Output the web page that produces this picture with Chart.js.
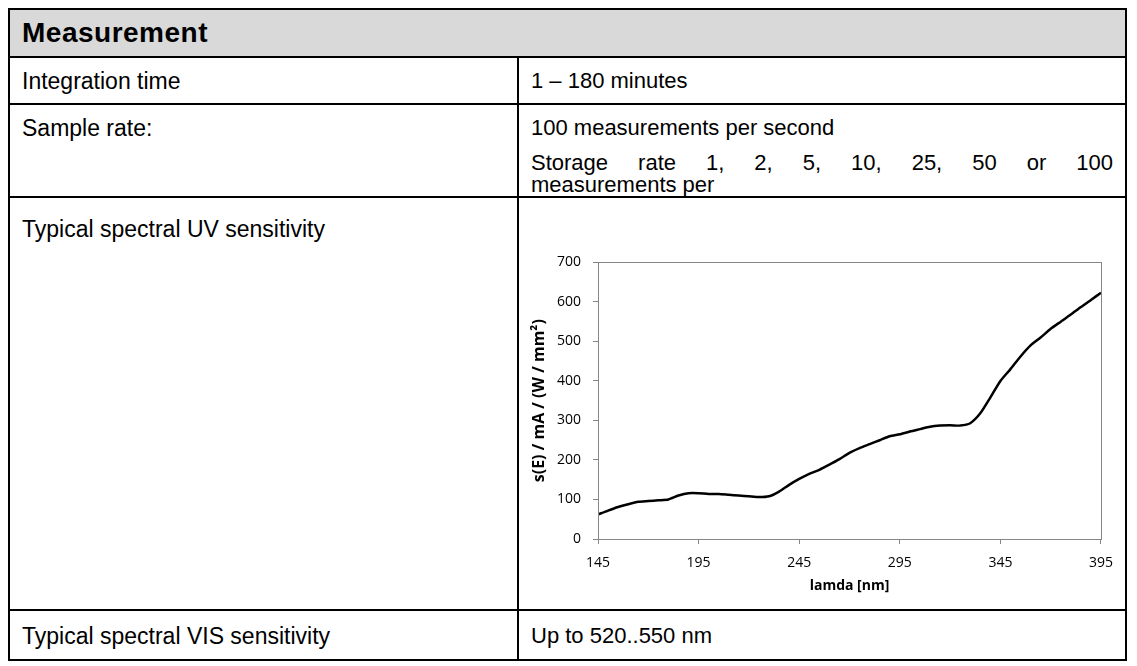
<!DOCTYPE html>
<html>
<head>
<meta charset="utf-8">
<script src="https://cdn.jsdelivr.net/npm/chart.js@4"></script>
<style>
    body{ margin:0; background:#fff; font-family:"Liberation Sans", Arial, sans-serif; }
    table{ position:absolute; left:8px; top:8px; width:1119px; border-collapse:collapse; font-size:23px; color:#000; table-layout:fixed; }
    td{ border:2px solid #000; padding:0 12px; vertical-align:top; overflow:hidden; }
    .head{ background:#d9d9d9; font-weight:bold; font-size:28px; letter-spacing:0.5px; height:46px; vertical-align:middle; }
    .r{ font-size:22px; }
    .txt{ line-height:24px; padding-top:11px; white-space:nowrap; }
    .just{ text-align:justify; text-align-last:justify; line-height:22px; }
    #chart_div{ position:absolute; left:520px; top:242px; width:604px; height:363px; }
</style>
</head>
<body>
<table>
    <colgroup><col style="width:509px"><col></colgroup>
    <tr><td colspan="2" class="head">Measurement</td></tr>
    <tr style="height:47px"><td><div class="txt">Integration time</div></td><td class="r"><div class="txt">1 – 180 minutes</div></td></tr>
    <tr style="height:93px"><td><div class="txt">Sample rate:</div></td>
        <td class="r"><div class="txt">100 measurements per second</div>
            <div class="just" style="margin-top:12px">Storage rate 1, 2, 5, 10, 25, 50 or 100</div>
            <div style="line-height:22px">measurements per</div></td></tr>
    <tr style="height:413px"><td><div class="txt" style="padding-top:19px">Typical spectral UV sensitivity</div></td><td></td></tr>
    <tr style="height:50px"><td><div class="txt" style="padding-top:13px">Typical spectral VIS sensitivity</div></td><td class="r"><div class="txt" style="padding-top:13px">Up to 520..550 nm</div></td></tr>
</table>
<div id="chart_div"><canvas id="uv_chart"></canvas></div>
<script>
    // wavelength [nm] and sensitivity s(E)
    const lamda = [145,150,155,160,165,170,175,180,185,190,195,200,205,210,215,220,225,230,235,240,
        245,250,255,260,265,270,275,280,285,290,295,300,305,310,315,320,325,330,335,340,
        345,350,355,360,365,370,375,380,385,390,395];
    const sensitivity = [62,72,81,88,94,96,98,100,110,116,116,114,114,112,110,108,106,108,120,137,
        152,165,175,188,202,218,230,240,250,260,265,272,278,284,287,288,287,293,318,358,
        400,430,462,490,510,532,550,568,587,605,623];
    const xTicks = [145,195,245,295,345,395];
    const yTicks = [0,100,200,300,400,500,600,700];

    const axisGrey = "#868686";
    const tickFont = { family: "Open Sans", size: 14 };

    // frame round the plot area, like the original
    const plotBox = {
        id: "plotBox",
        afterDraw(chart){
            const a = chart.chartArea;
            const ctx = chart.ctx;
            ctx.save();
            ctx.strokeStyle = axisGrey;
            ctx.lineWidth = 1;
            ctx.strokeRect(Math.round(a.left)+0.5, Math.round(a.top)+0.5, Math.round(a.right-a.left), Math.round(a.bottom-a.top));
            ctx.restore();
        }
    };

    new Chart(document.getElementById("uv_chart"), {
        type: "line",
        data: {
            datasets: [{
                data: lamda.map((x, i) => ({x: x, y: sensitivity[i]})),
                borderColor: "#000",
                borderWidth: 2.5,
                pointRadius: 0,
                tension: 0.2,
                fill: false
            }]
        },
        options: {
            responsive: true,
            maintainAspectRatio: false,
            animation: false,
            layout: { padding: { top: 2, right: 19, left: 0, bottom: 0 } },
            plugins: { legend: { display: false }, tooltip: { enabled: false } },
            scales: {
                x: {
                    type: "linear",
                    min: 145,
                    max: 395,
                    afterBuildTicks: axis => { axis.ticks = xTicks.map(v => ({value: v})); },
                    afterFit: axis => { axis.height = 66; },
                    grid: { drawOnChartArea: false, color: axisGrey, tickLength: 5 },
                    border: { color: axisGrey },
                    ticks: { color: "#000", font: tickFont, padding: 11, maxRotation: 0 },
                    title: { display: true, text: "lamda [nm]", color: "#000",
                        font: { family: "Open Sans", size: 14, weight: "bold" }, padding: { top: 2, bottom: 11 } }
                },
                y: {
                    min: 0,
                    max: 700,
                    afterBuildTicks: axis => { axis.ticks = yTicks.map(v => ({value: v})); },
                    afterFit: axis => { axis.width = 78; },
                    grid: { drawOnChartArea: false, color: axisGrey, tickLength: 5 },
                    border: { color: axisGrey },
                    ticks: { color: "#000", font: tickFont, padding: 12 },
                    title: { display: true, text: "s(E) / mA / (W / mm²)", color: "#000",
                        font: { family: "Open Sans", size: 16, weight: "bold" }, padding: { top: 10, bottom: 2 } }
                }
            }
        },
        plugins: [plotBox]
    });
</script>
</body>
</html>
